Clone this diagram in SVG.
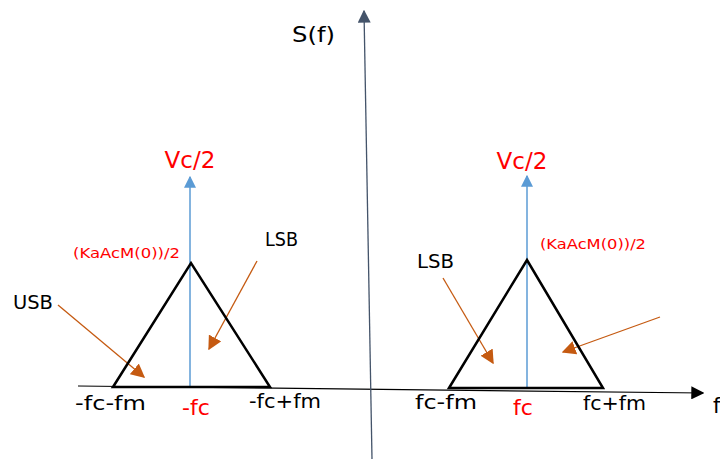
<svg xmlns="http://www.w3.org/2000/svg" width="720" height="459" viewBox="0 0 720 459">
<defs>
<style>
.t{font-family:"DejaVu Sans","Liberation Sans",sans-serif;}
.blk{fill:#000;}
.red{fill:#ff0000;}
.tri{fill:none;stroke:#000;stroke-width:2.5;stroke-linejoin:miter;}
.blue{stroke:#5b9bd5;stroke-width:1.5;fill:none;}
.org{stroke:#c55a11;stroke-width:1.3;fill:none;}
.axis{stroke:#44546a;stroke-width:1.3;fill:none;}
</style>
<marker id="mOrg" viewBox="0 0 10 10" refX="9" refY="5" markerWidth="14" markerHeight="14" markerUnits="userSpaceOnUse" orient="auto"><path d="M0,0 L10,5 L0,10 z" fill="#c55a11"/></marker>
<marker id="mBlue" viewBox="0 0 10 10" refX="9" refY="5" markerWidth="12" markerHeight="12" markerUnits="userSpaceOnUse" orient="auto"><path d="M0,0 L10,5 L0,10 z" fill="#5b9bd5"/></marker>
<marker id="mAx" viewBox="0 0 10 10" refX="9" refY="5" markerWidth="13" markerHeight="13" markerUnits="userSpaceOnUse" orient="auto"><path d="M0,0 L10,5 L0,10 z" fill="#44546a"/></marker>
<marker id="mBlack" viewBox="0 0 10 10" refX="9" refY="5" markerWidth="13" markerHeight="13" markerUnits="userSpaceOnUse" orient="auto"><path d="M0,0 L10,5 L0,10 z" fill="#000"/></marker>
</defs>
<rect width="720" height="459" fill="#fff"/>
<g id="connectors">
<line class="axis" x1="78" y1="386" x2="703" y2="393" style="stroke:#000;stroke-width:1.2" marker-end="url(#mBlack)"/>
<line class="axis" x1="372" y1="459" x2="364" y2="11" marker-end="url(#mAx)"/>
<line class="blue" x1="190" y1="387" x2="190" y2="177" marker-end="url(#mBlue)"/>
<line class="blue" x1="527" y1="388" x2="527" y2="176" marker-end="url(#mBlue)"/>
<line class="org" x1="58" y1="305" x2="144" y2="377" marker-end="url(#mOrg)"/>
<line class="org" x1="257" y1="261" x2="209" y2="349" marker-end="url(#mOrg)"/>
<line class="org" x1="443" y1="278" x2="493" y2="363" marker-end="url(#mOrg)"/>
<line class="org" x1="660" y1="317" x2="563" y2="352" marker-end="url(#mOrg)"/>
</g>
<g id="left-spectrum">
<polygon class="tri" points="113,387 191,263 270,387"/>
<text class="t red" x="190" y="168" font-size="23" text-anchor="middle">Vc/2</text>
<text class="t red" x="73" y="258" font-size="14" textLength="107" lengthAdjust="spacingAndGlyphs">(KaAcM(0))/2</text>
<text class="t red" x="196" y="415" font-size="22" text-anchor="middle">-fc</text>
<text class="t blk" x="75" y="410" font-size="20" textLength="71" lengthAdjust="spacingAndGlyphs">-fc-fm</text>
<text class="t blk" x="249" y="408" font-size="20" textLength="72" lengthAdjust="spacingAndGlyphs">-fc+fm</text>
</g>
<g id="right-spectrum">
<polygon class="tri" points="449,388 527,260 603,388"/>
<text class="t red" x="522" y="169" font-size="23" text-anchor="middle">Vc/2</text>
<text class="t red" x="540" y="249" font-size="14" textLength="106" lengthAdjust="spacingAndGlyphs">(KaAcM(0))/2</text>
<text class="t red" x="523" y="415" font-size="22" text-anchor="middle">fc</text>
<text class="t blk" x="415" y="409" font-size="20" textLength="62" lengthAdjust="spacingAndGlyphs">fc-fm</text>
<text class="t blk" x="583" y="410" font-size="20" textLength="63" lengthAdjust="spacingAndGlyphs">fc+fm</text>
</g>
<g id="labels">
<text class="t blk" x="292" y="42" font-size="22" textLength="43" lengthAdjust="spacingAndGlyphs">S(f)</text>
<text class="t blk" x="713" y="413" font-size="21">f</text>
<text class="t blk" x="265" y="246" font-size="19" textLength="33" lengthAdjust="spacingAndGlyphs">LSB</text>
<text class="t blk" x="417" y="268" font-size="19" textLength="37" lengthAdjust="spacingAndGlyphs">LSB</text>
<text class="t blk" x="13" y="309" font-size="19" textLength="40" lengthAdjust="spacingAndGlyphs">USB</text>
</g>
</svg>
